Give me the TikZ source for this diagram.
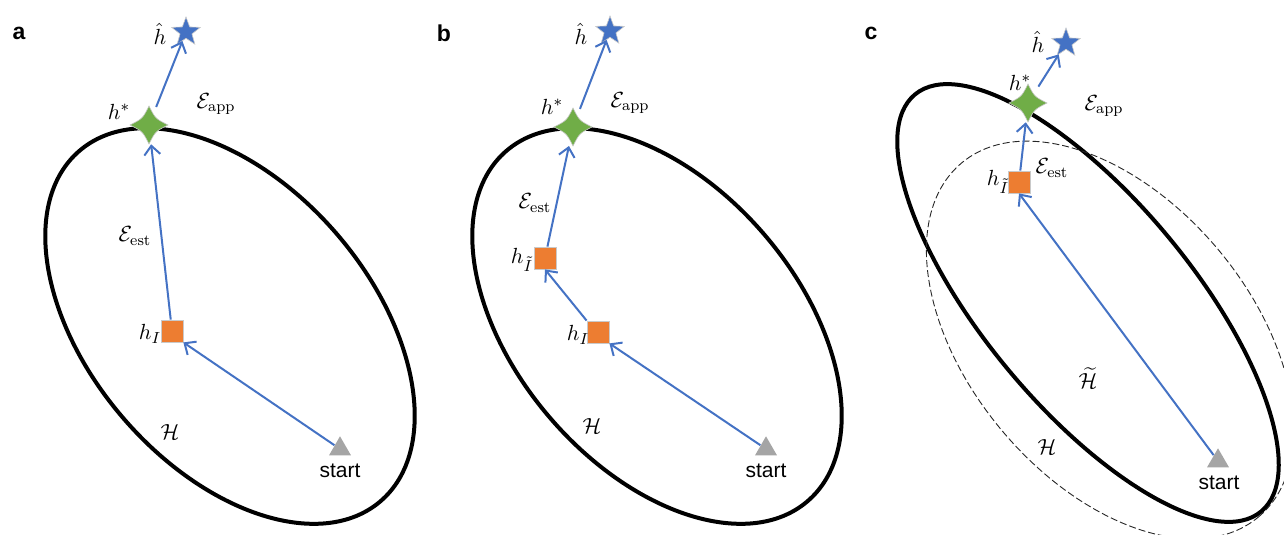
\documentclass[tikz,border=0pt]{standalone}
\usepackage{fontspec}
\usepackage{amsmath}
\usetikzlibrary{shapes.geometric, arrows.meta}
\newfontfamily\panelfont{Liberation Sans}
\definecolor{hypBlue}{RGB}{68,114,196}
\definecolor{hypGreen}{RGB}{112,173,71}
\definecolor{hypOrange}{RGB}{237,125,49}
\definecolor{hypGray}{RGB}{165,165,165}
\newcommand\optimum[2]{%
  \filldraw[fill=hypGreen, draw=hypGray!60, line width=0.3pt, shift={#2}]
    (9.5pt,0) .. controls (3.2pt,3.2pt) .. (0,9.5pt) .. controls (-3.2pt,3.2pt) .. (-9.5pt,0)
    .. controls (-3.2pt,-3.2pt) .. (0,-9.5pt) .. controls (3.2pt,-3.2pt) .. cycle;
  \node[optspot] (#1) at #2 {};}

\begin{document}
\begin{tikzpicture}[x=0.5pt, y=-0.5pt,
    space/.style={draw=black, line width=2pt},
    subspace/.style={draw=black!85, line width=0.45pt, dash pattern=on 3.5pt off 1.5pt},
    best/.style={star, star points=5, star point ratio=2.4, minimum size=15pt, inner sep=0pt,
      fill=hypBlue, draw=hypGray!60, line width=0.3pt},
    optspot/.style={circle, inner sep=0pt, minimum size=19pt},
    learned/.style={rectangle, minimum size=11pt, inner sep=0pt, fill=hypOrange,
      draw=hypGray!60, line width=0.4pt},
    init/.style={regular polygon, regular polygon sides=3, minimum size=12.7pt, inner sep=0pt,
      fill=hypGray},
    mlabel/.style={inner sep=0pt, font=\fontsize{11}{13}\selectfont},
    word/.style={inner sep=0pt, font=\panelfont\fontsize{10.5}{12}\selectfont},
    panel/.style={inner sep=0pt, font=\panelfont\bfseries\fontsize{11.5}{13}\selectfont},
    move/.style={draw=hypBlue, line width=1pt, -{Straight Barb[length=4.5pt, width=8pt]}}
  ]
  \useasboundingbox (0,0) rectangle (1284,535);

  \draw[space] (230,326) ellipse [x radius=115.5pt, y radius=70.5pt, rotate=-49.3];
  \draw[space] (657,326) ellipse [x radius=115.5pt, y radius=70.5pt, rotate=-49.3];
  \draw[space] (1088,303) ellipse [x radius=135.5pt, y radius=52pt, rotate=-50.3];
  \begin{scope}
    \clip (0,0) rectangle (1284,535);
    \draw[subspace] (1110,340) ellipse [x radius=115.5pt, y radius=70.5pt, rotate=-50];
  \end{scope}

  \node[panel] (tagA) at (19,33) {a};
  \node[best] (hatA) at (186,32) {};
  \optimum{optA}{(149,125)}
  \node[learned] (hIA) at (172,331) {};
  \node[init] (initA) at (340,449) {};
  \node[mlabel] (lhatA) at (160,34) {$\hat{h}$};
  \node[mlabel] (loptA) at (119,112) {$h^{*}$};
  \node[mlabel] (lappA) at (216,104) {$\mathcal{E}_{\mathrm{app}}$};
  \node[mlabel] (lestA) at (135,236) {$\mathcal{E}_{\mathrm{est}}$};
  \node[mlabel] (lhIA) at (150,334) {$h_{I}$};
  \node[mlabel] (lspaceA) at (170,432) {$\mathcal{H}$};
  \node[word] (linitA) at (340,471) {start};
  \draw[move] (initA) -- (hIA.south east);
  \draw[move] (hIA) -- (optA);
  \draw[move] (optA) -- (hatA);

  \node[panel] (tagB) at (444,33) {b};
  \node[best] (hatB) at (610,31) {};
  \optimum{optB}{(573,127)}
  \node[learned] (hTB) at (545,258) {};
  \node[learned] (hIB) at (598,332) {};
  \node[init] (initB) at (766,449) {};
  \node[mlabel] (lhatB) at (581,34) {$\hat{h}$};
  \node[mlabel] (loptB) at (552,107) {$h^{*}$};
  \node[mlabel] (lappB) at (630,103) {$\mathcal{E}_{\mathrm{app}}$};
  \node[mlabel] (lestB) at (535,203) {$\mathcal{E}_{\mathrm{est}}$};
  \node[mlabel] (lhTB) at (522,260) {$h_{\tilde{I}}$};
  \node[mlabel] (lhIB) at (578,335) {$h_{I}$};
  \node[mlabel] (lspaceB) at (592,426) {$\mathcal{H}$};
  \node[word] (linitB) at (766,471) {start};
  \draw[move] (initB) -- (hIB.south east);
  \draw[move] (hIB.north west) -- (hTB.south);
  \draw[move] (hTB) -- (optB);
  \draw[move] (optB) -- (hatB);

  \node[panel] (tagC) at (871,33) {c};
  \node[best] (hatC) at (1066,43) {};
  \optimum{optC}{(1028,103)}
  \node[learned] (hTC) at (1019,182) {};
  \node[init] (initC) at (1218,461) {};
  \node[mlabel] (lhatC) at (1038,42) {$\hat{h}$};
  \node[mlabel] (loptC) at (1020,83) {$h^{*}$};
  \node[mlabel] (lappC) at (1104,106) {$\mathcal{E}_{\mathrm{app}}$};
  \node[mlabel] (lestC) at (1052,168) {$\mathcal{E}_{\mathrm{est}}$};
  \node[mlabel] (lhTC) at (998,182) {$h_{\tilde{I}}$};
  \node[mlabel] (ltildeC) at (1088,378) {$\widetilde{\mathcal{H}}$};
  \node[mlabel] (lspaceC) at (1047,447) {$\mathcal{H}$};
  \node[word] (linitC) at (1219,483) {start};
  \draw[move] (initC) -- (hTC.south);
  \draw[move] (hTC) -- (optC);
  \draw[move] (optC) -- (hatC);
\end{tikzpicture}
\end{document}
